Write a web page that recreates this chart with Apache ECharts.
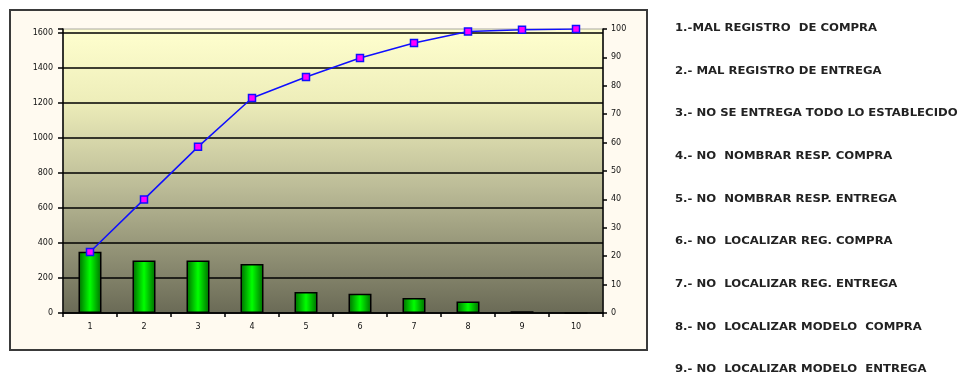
<!DOCTYPE html>
<html>
<head>
<meta charset="utf-8">
<script src="https://cdn.jsdelivr.net/npm/echarts@6/dist/echarts.min.js"></script>
<style>
  html, body { margin: 0; padding: 0; background: #ffffff; }
  #chart { width: 960px; height: 374px; }
</style>
</head>
<body>
<div id="chart"></div>
<script>
// Pareto of purchase / delivery record defects
const categories = ['1', '2', '3', '4', '5', '6', '7', '8', '9', '10'];
const defectCounts = [350, 300, 300, 280, 120, 110, 85, 65, 10, 0];
const cumulativePct = [21.5, 40, 58.5, 75.7, 83.1, 89.8, 95.1, 99.1, 99.7, 100];
const causes = [
  '1.-MAL REGISTRO  DE COMPRA',
  '2.- MAL REGISTRO DE ENTREGA',
  '3.- NO SE ENTREGA TODO LO ESTABLECIDO',
  '4.- NO  NOMBRAR RESP. COMPRA',
  '5.- NO  NOMBRAR RESP. ENTREGA',
  '6.- NO  LOCALIZAR REG. COMPRA',
  '7.- NO  LOCALIZAR REG. ENTREGA',
  '8.- NO  LOCALIZAR MODELO  COMPRA',
  '9.- NO  LOCALIZAR MODELO  ENTREGA'
];

// the count axis tops out at the total, so 100 % sits on the plot's top edge
const countMax = defectCounts.reduce((a, b) => a + b, 0);

const chart = echarts.init(document.getElementById('chart'), null, { renderer: 'canvas' });

const labelFont = { fontFamily: 'DejaVu Sans', fontSize: 8, color: '#111' };

// list of causes to the right of the chart box
const causeText = causes.map((t, i) => ({
  type: 'text',
  x: 675,
  y: 28 + i * 42.7,
  scaleX: 1.06,
  style: {
    text: t,
    font: 'bold 11px "DejaVu Sans"',
    fill: '#222',
    verticalAlign: 'middle'
  }
}));

chart.setOption({
  animation: false,
  backgroundColor: '#ffffff',
  graphic: [
    {
      type: 'rect',
      shape: { x: 10, y: 10, width: 637, height: 340 },
      style: { fill: '#fffaf0', stroke: '#3a3a3a', lineWidth: 2 },
      z: -10
    },
    ...causeText
  ],
  grid: {
    left: 63,
    right: 357,
    top: 29,
    bottom: 61,
    show: true,
    borderColor: '#a8a8a0',
    borderWidth: 1,
    backgroundColor: new echarts.graphic.LinearGradient(0, 0, 0, 1, [
      { offset: 0, color: '#ffffcf' },
      { offset: 0.25, color: '#eeeeba' },
      { offset: 0.55, color: '#bdbd98' },
      { offset: 1, color: '#6a6a56' }
    ])
  },
  xAxis: {
    type: 'category',
    data: categories,
    boundaryGap: true,
    axisLine: { lineStyle: { color: '#000', width: 1.5 } },
    axisTick: { show: true, length: 4, lineStyle: { color: '#000', width: 1.5 } },
    axisLabel: { ...labelFont, margin: 10 },
    splitLine: { show: false }
  },
  yAxis: [
    {
      type: 'value',
      min: 0,
      max: countMax,
      interval: 200,
      axisLine: { show: true, lineStyle: { color: '#000', width: 1.5 } },
      axisTick: { show: true, length: 5, lineStyle: { color: '#000', width: 1.5 } },
      axisLabel: {
        ...labelFont,
        margin: 10,
        formatter: v => (v % 200 === 0 ? String(v) : '')
      },
      splitLine: { show: true, showMaxLine: false, lineStyle: { color: '#000', width: 1.5 } }
    },
    {
      type: 'value',
      min: 0,
      max: 100,
      interval: 10,
      position: 'right',
      axisLine: { show: true, lineStyle: { color: '#000', width: 1.5 } },
      axisTick: { show: true, length: 4, lineStyle: { color: '#000', width: 1.5 } },
      axisLabel: { ...labelFont, margin: 8 },
      splitLine: { show: false }
    }
  ],
  series: [
    {
      type: 'bar',
      yAxisIndex: 0,
      data: defectCounts,
      barWidth: 23,
      itemStyle: {
        color: new echarts.graphic.LinearGradient(0, 0, 1, 0, [
          { offset: 0, color: '#006a00' },
          { offset: 0.5, color: '#00ff00' },
          { offset: 1, color: '#006a00' }
        ]),
        borderColor: '#000',
        borderWidth: 1.5
      },
      z: 2
    },
    {
      type: 'line',
      yAxisIndex: 1,
      data: cumulativePct,
      symbol: 'rect',
      symbolSize: 7,
      lineStyle: { color: '#0f0fff', width: 1.5 },
      itemStyle: { color: '#ff00ff', borderColor: '#0f0fff', borderWidth: 1.5 },
      z: 3
    }
  ]
});
</script>
</body>
</html>
